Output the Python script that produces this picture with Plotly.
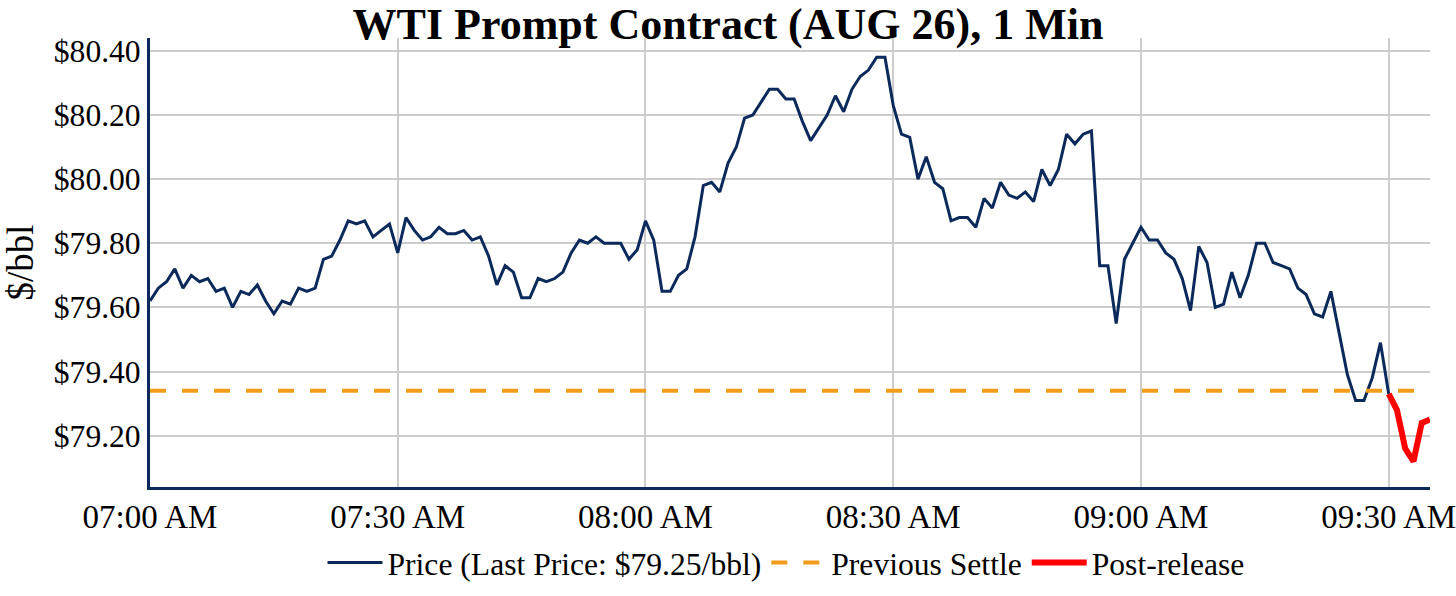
import pandas as pd
import plotly.graph_objects as go

# 1-minute last prices, $/bbl (07:00 -> 09:30)
price_0700 = [79.62, 79.66, 79.68, 79.72, 79.66, 79.70, 79.68, 79.69, 79.65, 79.66,
              79.60, 79.65, 79.64, 79.67, 79.62, 79.58, 79.62, 79.61, 79.66, 79.65,
              79.66, 79.75, 79.76, 79.81, 79.87, 79.86, 79.87, 79.82, 79.84, 79.86,
              79.77]
price_0731 = [79.88, 79.84, 79.81, 79.82, 79.85, 79.83, 79.83, 79.84, 79.81, 79.82,
              79.76, 79.67, 79.73, 79.71, 79.63, 79.63, 79.69, 79.68, 79.69, 79.71,
              79.77, 79.81, 79.80, 79.82, 79.80, 79.80, 79.80, 79.75, 79.78, 79.87]
price_0801 = [79.81, 79.65, 79.65, 79.70, 79.72, 79.82, 79.98, 79.99, 79.96, 80.05,
              80.10, 80.19, 80.20, 80.24, 80.28, 80.28, 80.25, 80.25, 80.18, 80.12,
              80.16, 80.20, 80.26, 80.21, 80.28, 80.32, 80.34, 80.38, 80.38, 80.23]
price_0831 = [80.14, 80.13, 80.00, 80.07, 79.99, 79.97, 79.87, 79.88, 79.88, 79.85,
              79.94, 79.91, 79.99, 79.95, 79.94, 79.96, 79.93, 80.03, 79.98, 80.03,
              80.14, 80.11, 80.14, 80.15, 79.73, 79.73, 79.55, 79.75, 79.80, 79.85]
price_0901 = [79.81, 79.81, 79.77, 79.75, 79.69, 79.59, 79.79, 79.74, 79.60, 79.61,
              79.71, 79.63, 79.70, 79.80, 79.80, 79.74, 79.73, 79.72, 79.66, 79.64,
              79.58, 79.57, 79.65, 79.52, 79.39, 79.31, 79.31, 79.38, 79.49, 79.33]
price = price_0700 + price_0731 + price_0801 + price_0831 + price_0901

# after the 09:30 release
post_release = [79.33, 79.28, 79.16, 79.12, 79.24, 79.25]
prev_settle = 79.34
last_price = post_release[-1]

t_price = pd.date_range("2026-07-01 07:00", periods=len(price), freq="min")
t_post = pd.date_range("2026-07-01 09:30", periods=len(post_release), freq="min")
x_start, x_end = t_price[0], t_post[-1]

y_ticks = [79.20, 79.40, 79.60, 79.80, 80.00, 80.20, 80.40]

NAVY = "#0b2a5b"
font = "Liberation Serif, Times New Roman, serif"

fig = go.Figure()
fig.add_trace(go.Scatter(x=t_price, y=price, mode="lines",
                         line=dict(color=NAVY, width=3),
                         name=f"Price (Last Price: ${last_price:.2f}/bbl)"))
fig.add_trace(go.Scatter(x=[x_start, x_end], y=[prev_settle, prev_settle], mode="lines",
                         line=dict(color="#f39c1b", width=4, dash="16px,16px"),
                         name="Previous Settle"))
fig.add_trace(go.Scatter(x=t_post, y=post_release, mode="lines",
                         line=dict(color="#ff0000", width=6),
                         name="Post-release"))

fig.update_layout(
    width=1456, height=596,
    margin=dict(l=150, r=26, t=38, b=109),
    paper_bgcolor="white", plot_bgcolor="white",
    font=dict(family=font, size=31.6, color="black"),
    title=dict(text="<b>WTI Prompt Contract (AUG 26), 1 Min</b>",
               x=0.5, xanchor="center", xref="container",
               y=1, yanchor="top", yref="container", pad=dict(t=8, b=0),
               font=dict(size=44, family=font, color="black")),
    # container-referenced so the legend does not push the bottom margin
    legend=dict(orientation="h", x=786 / 1456, xanchor="center", xref="container",
                y=1 - 563 / 596, yanchor="middle", yref="container",
                font=dict(size=31.6), bgcolor="rgba(0,0,0,0)", itemwidth=55),
    showlegend=True,
)
fig.update_xaxes(range=[x_start, x_end], dtick=30 * 60 * 1000, tick0=x_start,
                 tickformat="%I:%M %p", tickfont=dict(size=33),
                 showgrid=True, gridcolor="#cccccc", gridwidth=1.5,
                 showline=True, linecolor=NAVY, linewidth=3, ticks="",
                 ticklabelstandoff=-2, ticklabeloverflow="allow",
                 zeroline=False, automargin=False)
fig.update_yaxes(range=[79.04, 80.44], tickvals=y_ticks, tickformat="$.2f",
                 showgrid=True, gridcolor="#cccccc", gridwidth=1.5,
                 showline=True, linecolor=NAVY, linewidth=3, ticks="",
                 ticklabelstandoff=0, zeroline=False, automargin=False,
                 title=dict(text="$/bbl", font=dict(size=37), standoff=25))

# drop the browser's default 8px body margin so the figure fills the window
fig.write_html("out.html", config={"displayModeBar": False},
               post_script="document.body.style.margin = '0';")
